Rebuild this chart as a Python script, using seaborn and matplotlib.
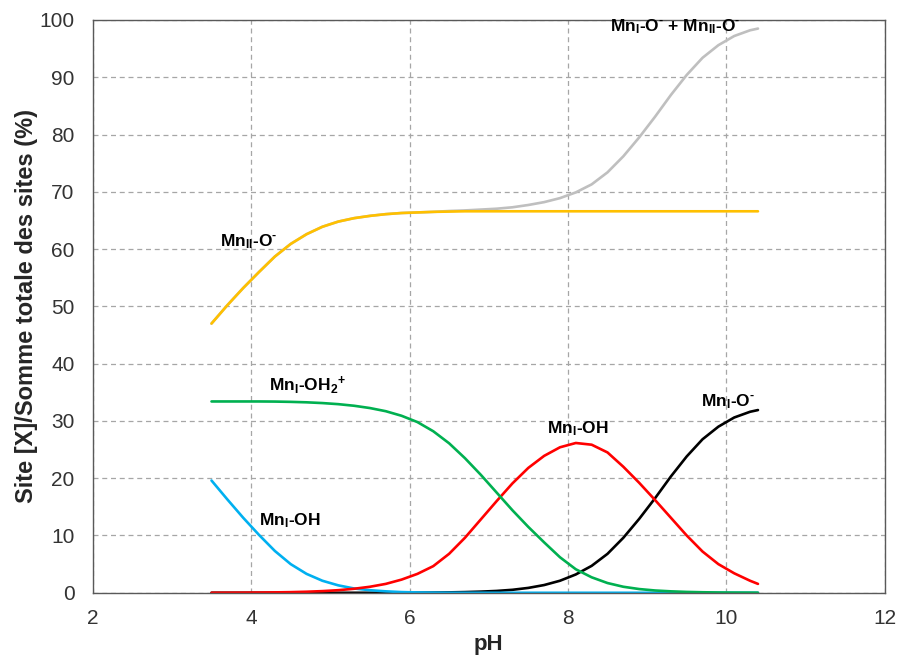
import matplotlib
matplotlib.use("Agg")
import matplotlib.pyplot as plt
import seaborn as sns
import pandas as pd

# pH grid (curves run from 3.5 to 10.4)
ph = [3.5, 3.7, 3.9, 4.1, 4.3, 4.5, 4.7, 4.9, 5.1, 5.3, 5.5, 5.7, 5.9, 6.1, 6.3, 6.5,
      6.7, 6.9, 7.1, 7.3, 7.5, 7.7, 7.9, 8.1, 8.3, 8.5, 8.7, 8.9, 9.1, 9.3, 9.5, 9.7,
      9.9, 10.1, 10.3, 10.4]

# Mn_I-O- + Mn_II-O- (grey)
total_o = [47.0, 50.2, 53.2, 56.0, 58.7, 60.9, 62.6, 63.9, 64.8, 65.4, 65.8, 66.1, 66.3, 66.4, 66.5, 66.65,
           66.75, 66.9, 67.05, 67.3, 67.7, 68.2, 68.9, 69.9, 71.3, 73.4, 76.2, 79.5, 83.1, 86.9, 90.4, 93.4,
           95.6, 97.2, 98.2, 98.5]
# Mn_II-O- (yellow)
mn2_o = [47.0, 50.2, 53.2, 56.0, 58.7, 60.9, 62.6, 63.9, 64.8, 65.4, 65.8, 66.1, 66.3, 66.4, 66.5, 66.55,
         66.6, 66.6, 66.6, 66.6, 66.6, 66.6, 66.6, 66.6, 66.6, 66.6, 66.6, 66.6, 66.6, 66.6, 66.6, 66.6,
         66.6, 66.6, 66.6, 66.6]
# Mn_I-OH2+ (green)
mn1_oh2 = [33.4, 33.4, 33.4, 33.4, 33.38, 33.33, 33.25, 33.12, 32.93, 32.65, 32.25, 31.7, 30.9, 29.8, 28.2, 26.1,
           23.5, 20.6, 17.5, 14.4, 11.5, 8.8, 6.2, 4.1, 2.7, 1.7, 1.05, 0.65, 0.4, 0.25, 0.15, 0.09,
           0.05, 0.03, 0.02, 0.01]
# Mn_I-OH (blue, low pH)
mn_oh_low = [19.6, 16.3, 13.1, 10.1, 7.3, 5.0, 3.3, 2.1, 1.3, 0.75, 0.45, 0.25, 0.12, 0.06, 0.03, 0.01,
             0, 0, 0, 0, 0, 0, 0, 0, 0, 0, 0, 0, 0, 0, 0, 0,
             0, 0, 0, 0]
# Mn_I-OH (red)
mn1_oh = [0.0, 0.01, 0.02, 0.04, 0.07, 0.11, 0.18, 0.29, 0.45, 0.7, 1.05, 1.55, 2.3, 3.3, 4.65, 6.8,
          9.6, 12.8, 16.0, 19.1, 21.8, 23.9, 25.4, 26.15, 25.85, 24.5, 22.0, 19.2, 16.2, 13.1, 10.0, 7.2,
          5.0, 3.4, 2.1, 1.55]
# Mn_I-O- (black)
mn1_o = [0, 0, 0, 0, 0, 0, 0, 0, 0, 0, 0, 0, 0, 0.02, 0.04, 0.07,
         0.12, 0.2, 0.32, 0.52, 0.85, 1.35, 2.1, 3.2, 4.7, 6.8, 9.6, 12.9, 16.5, 20.3, 23.8, 26.8,
         29.0, 30.6, 31.6, 31.9]

x_ticks = [2, 4, 6, 8, 10, 12]
y_ticks = [0, 10, 20, 30, 40, 50, 60, 70, 80, 90, 100]

sns.set_theme(style="white")
plt.rcParams["font.family"] = ["Liberation Sans", "DejaVu Sans"]
plt.rcParams["mathtext.fontset"] = "custom"
plt.rcParams["mathtext.rm"] = "Liberation Sans:bold"
plt.rcParams["mathtext.bf"] = "Liberation Sans:bold"
plt.rcParams["mathtext.it"] = "Liberation Sans:bold"
plt.rcParams["mathtext.default"] = "bf"

fig = plt.figure(figsize=(9, 6.55), dpi=100)
ax = fig.add_axes([0.103, 0.095, 0.88, 0.8745])

# drawing order chosen so overlaps near zero look like the original
series = [
    (total_o, "#BFBFBF"),
    (mn2_o, "#FFC000"),
    (mn1_o, "#000000"),
    (mn_oh_low, "#00B0F0"),
    (mn1_oh, "#FF0000"),
    (mn1_oh2, "#00B050"),
]
for vals, col in series:
    df = pd.DataFrame({"pH": ph, "val": vals})
    sns.lineplot(data=df, x="pH", y="val", color=col, linewidth=1.9, ax=ax)

ax.set_xlim(2, 12)
ax.set_ylim(0, 100)
ax.set_xticks(x_ticks)
ax.set_yticks(y_ticks)
ax.tick_params(axis="x", labelsize=15, colors="#333333", length=0, pad=12)
ax.tick_params(axis="y", labelsize=15, colors="#333333", length=0, pad=13)
ax.grid(True, color="#A6A6A6", linestyle=(0, (4, 3)), linewidth=0.9)
for s in ax.spines.values():
    s.set_color("#595959")
    s.set_linewidth(1.0)

ax.set_xlabel("pH", fontsize=16, fontweight="bold", labelpad=4)
ax.set_ylabel("Site [X]/Somme totale des sites (%)", fontsize=17, fontweight="bold", labelpad=1)

sup = "$^{\u2010}$"
lab = dict(fontsize=12.5, fontweight="bold", ha="center", va="center", color="black")
ax.text(3.97, 61.3, "Mn$_{II}$-O" + sup, **lab)
ax.text(9.35, 98.8, "Mn$_{I}$-O" + sup + " + Mn$_{II}$-O" + sup, **lab)
ax.text(4.71, 36.2, "Mn$_{I}$-OH$_{2}$$^{+}$", **lab)
ax.text(4.49, 12.6, "Mn$_{I}$-OH", **lab)
ax.text(8.12, 28.7, "Mn$_{I}$-OH", **lab)
ax.text(10.02, 33.3, "Mn$_{I}$-O" + sup, **lab)

fig.savefig("out.png", dpi=100)
